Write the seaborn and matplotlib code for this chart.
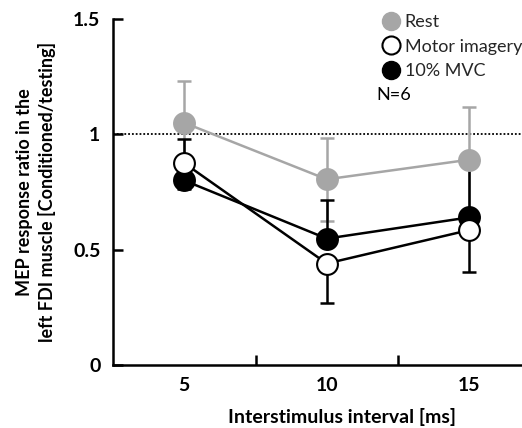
import matplotlib
matplotlib.use('Agg')
import matplotlib.pyplot as plt
from matplotlib.lines import Line2D
import seaborn as sns
import pandas as pd
import numpy as np

# data
intervals = ['5', '10', '15']
rest_mean = [1.05, 0.805, 0.89]
rest_err = [0.18, 0.18, 0.23]
mi_mean = [0.875, 0.44, 0.585]
mi_err_low = [0.11, 0.17, 0.18]
mvc_mean = [0.80, 0.548, 0.64]
mvc_err_up = [0.18, 0.166, 0.22]

sns.set_theme(style='white')
plt.rcParams['font.family'] = ['Lato', 'DejaVu Sans']

GRAY = '#a6a6a6'

fig = plt.figure(figsize=(5.22, 4.28), dpi=100)
ax = fig.add_axes([0.2165, 0.1472, 0.7835, 0.8084])

pos = np.arange(len(intervals))
df = pd.DataFrame({'pos': np.tile(pos, 3),
                   'ratio': rest_mean + mvc_mean + mi_mean,
                   'cond': ['Rest'] * 3 + ['10% MVC'] * 3 + ['Motor imagery'] * 3})

ax.axhline(1.0, color='black', ls=(0, (1, 1.1)), lw=1.3, zorder=1)

# error bars
ax.errorbar(pos, rest_mean, yerr=rest_err, fmt='none', ecolor=GRAY,
            elinewidth=1.8, capsize=5, capthick=1.8, zorder=2)
ax.errorbar(pos, mvc_mean, yerr=[np.zeros(3), mvc_err_up], fmt='none',
            ecolor='black', elinewidth=1.8, capsize=5, capthick=1.8, zorder=2.5)
ax.errorbar(pos, mi_mean, yerr=[mi_err_low, np.zeros(3)], fmt='none',
            ecolor='black', elinewidth=1.8, capsize=5, capthick=1.8, zorder=2.5)

styles = {'Rest': dict(color=GRAY, mfc=GRAY, mec=GRAY, z=3),
          '10% MVC': dict(color='black', mfc='black', mec='black', z=4),
          'Motor imagery': dict(color='black', mfc='white', mec='black', z=5)}
for cond, st in styles.items():
    sub = df[df['cond'] == cond]
    sns.lineplot(data=sub, x='pos', y='ratio', ax=ax, color=st['color'],
                 lw=1.8, marker='o', markersize=15, markerfacecolor=st['mfc'],
                 markeredgecolor=st['mec'], markeredgewidth=1.5, zorder=st['z'],
                 legend=False)

ax.set_xlim(-0.5, 2.37)
ax.set_ylim(0, 1.5)
ax.set_xticks(pos)
ax.set_xticklabels(intervals)
ax.set_xticks([0.5, 1.5], minor=True)
ax.set_yticks([0, 0.5, 1, 1.5])
ax.set_yticklabels(['0', '0.5', '1', '1.5'])
ax.tick_params(axis='x', which='major', length=0, pad=9)
ax.tick_params(axis='x', which='minor', direction='in', length=7, width=1.8,
               color='black', bottom=True)
ax.tick_params(axis='y', direction='in', length=7, width=1.8, color='black',
               left=True, pad=9)
for lab in ax.get_xticklabels() + ax.get_yticklabels():
    lab.set_fontweight('bold')
    lab.set_fontsize(14)
    lab.set_color('black')

for s in ['top', 'right']:
    ax.spines[s].set_visible(False)
for s in ['left', 'bottom']:
    ax.spines[s].set_color('black')
    ax.spines[s].set_linewidth(1.8)

ax.set_xlabel('Interstimulus interval [ms]', fontsize=14, fontweight='bold',
              color='black')
ax.xaxis.set_label_coords(0.56, -0.125)
ax.set_ylabel('MEP response ratio in the\nleft FDI muscle [Conditioned/testing]',
              fontsize=13, fontweight='bold', color='black', linespacing=1.3)
ax.yaxis.set_label_coords(-0.14, 0.5)

handles = [
    Line2D([], [], ls='none', marker='o', markersize=13, mfc=GRAY, mec=GRAY),
    Line2D([], [], ls='none', marker='o', markersize=13, mfc='white', mec='black',
           mew=1.5),
    Line2D([], [], ls='none', marker='o', markersize=13, mfc='black', mec='black'),
]
ax.legend(handles, ['Rest', 'Motor imagery', '10% MVC'],
          loc='upper left', bbox_to_anchor=(0.645, 1.035), frameon=False,
          fontsize=13, handlelength=0.8, handletextpad=0.35,
          labelspacing=0.47, borderaxespad=0)
ax.text(0.645, 0.78, 'N=6', transform=ax.transAxes, fontsize=13,
        color='black', ha='left', va='center')

fig.savefig('out.png', dpi=100)
